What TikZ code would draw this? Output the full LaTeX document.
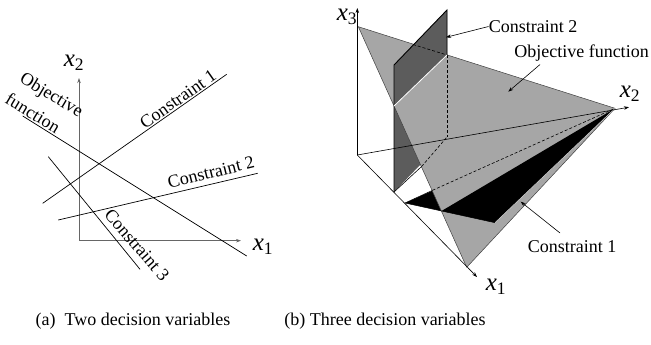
\documentclass[tikz,border=0pt]{standalone}
\usepackage{fontspec}
\setmainfont{Liberation Serif}
\usetikzlibrary{arrows.meta}
\definecolor{objgray}{RGB}{166,166,166}
\definecolor{pldark}{RGB}{92,92,92}
\begin{document}
\begin{tikzpicture}[x=1pt,y=-1pt,
  txt/.style={font=\fontsize{18}{20}\selectfont, inner sep=0pt},
  mlab/.style={font=\fontsize{25}{27}\selectfont, inner sep=0pt},
  thinline/.style={line width=0.7pt},
  axisL/.style={line width=0.7pt, draw=black!60, -{Stealth[length=5pt,width=3.5pt]}},
  axisR/.style={line width=0.6pt, draw=black, -{Stealth[length=5pt,width=3.5pt]}},
  hid/.style={line width=0.6pt, dash pattern=on 3pt off 2pt},
  ptr/.style={line width=0.6pt, -{Stealth[length=5pt,width=3.5pt]}}
]
\useasboundingbox (0,0) rectangle (651,345);
% ---------------- (a) two decision variables ----------------
\coordinate (O) at (79,240.7);
\coordinate (X1e) at (241,240.7);
\coordinate (X2e) at (79,78);
\draw[axisL] (O) -- (X1e);
\draw[axisL] (O) -- (X2e);
\node[mlab] (lx1) at (263,247) {\textit{x}\textsubscript{1}};
\node[mlab] (lx2) at (74,63) {\textit{x}\textsubscript{2}};
\coordinate (ofA) at (22.7,116);   \coordinate (ofB) at (246.7,256);
\coordinate (c1A) at (42.7,203.3); \coordinate (c1B) at (226.7,74.3);
\coordinate (c2A) at (58.3,220);   \coordinate (c2B) at (257.7,173.3);
\coordinate (c3A) at (48.3,156.7); \coordinate (c3B) at (140,269.3);
\draw[thinline] (ofA) -- (ofB);
\draw[thinline] (c1A) -- (c1B);
\draw[thinline] (c2A) -- (c2B);
\draw[thinline] (c3A) -- (c3B);
\node[txt, rotate=-31] (lobj1) at (51,96) {Objective};
\node[txt, rotate=-31] (lobj2) at (33,113) {function};
\node[txt, rotate=35] (lc1) at (178,99) {Constraint 1};
\node[txt, rotate=14] (lc2) at (211,172.5) {Constraint 2};
\node[txt, rotate=-49] (lc3) at (137,245) {Constraint 3};
\node[txt] (capa) at (133,321.5) {(a)\ \ Two decision variables};
% ---------------- (b) three decision variables ----------------
\coordinate (O3) at (357.3,155);
\coordinate (A3) at (357.3,8);
\coordinate (A2) at (629,107.2);
\coordinate (A1) at (477,277);
\coordinate (T3) at (358.3,26.7);
\coordinate (T2) at (615,108.3);
\coordinate (T1) at (466.7,267.3);
\coordinate (Pa) at (394,65);
\coordinate (Pb) at (447,10);
\coordinate (Pc) at (447,137);
\coordinate (Pd) at (394,192);
\coordinate (I2a) at (394,106);
\coordinate (I2b) at (447,55);
\coordinate (E1) at (413,44.5);
\coordinate (L) at (421.6,166.5);
\coordinate (B1) at (405,203);
\coordinate (B3) at (495,222.7);
\coordinate (K1) at (432.5,190.3);
\coordinate (K2) at (441.5,211);
% constraint 2 plane (full)
\fill[pldark] (Pa) -- (Pb) -- (Pc) -- (Pd) -- cycle;
% constraint 1 plane (full)
\fill[black] (B1) -- (T2) -- (B3) -- cycle;
% objective plane
\filldraw[fill=objgray, draw=black!75, line width=0.5pt] (T3) -- (T2) -- (T1) -- cycle;
% visible parts of constraint planes in front of objective
\fill[pldark] (Pa) -- (Pb) -- (I2b) -- (I2a) -- cycle;
\fill[black] (K2) -- (B3) -- (T2) -- cycle;
\draw[white!85!black, line width=0.5pt] (B3) -- (T2);
% hidden edges
\draw[hid] (E1) -- (I2b);
\draw[hid] (I2b) -- (Pc);
\draw[hid] (L) -- (Pc);
\draw[hid] (K1) -- (T2);
% visible edges of constraint 2
\draw[line width=0.9pt] (Pd) -- (Pa) -- (Pb) -- (I2b);
\draw[line width=0.6pt] (Pd) -- (L);
\draw[white, line width=0.8pt] (I2a) -- (I2b);
\draw[line width=0.5pt] (B1) -- (K1);
\draw[line width=0.5pt] (B1) -- (B3);
% axes
\draw[axisR] (O3) -- (A3);
\draw[axisR] (O3) -- (A2);
\draw[axisR] (O3) -- (A1);
\node[mlab] (lx3) at (347,17) {\textit{x}\textsubscript{3}};
\node[mlab] (lx2b) at (630,94) {\textit{x}\textsubscript{2}};
\node[mlab] (lx1b) at (496,287) {\textit{x}\textsubscript{1}};
% labels with pointers
\node[txt] (lbc2) at (533,26.5) {Constraint 2};
\coordinate (pc2) at (446,37.3);
\draw[ptr] (lbc2.west) -- (pc2);
\node[txt] (lbof) at (581.5,53) {Objective function};
\coordinate (pof) at (508.3,91.7);
\draw[ptr] (540,64.5) -- (pof);
\node[txt] (lbc1) at (572,246.5) {Constraint 1};
\coordinate (pc1) at (520.7,201.7);
\draw[ptr] (560,233) -- (pc1);
\node[txt] (capb) at (385,321.5) {(b) Three decision variables};
\end{tikzpicture}
\end{document}
